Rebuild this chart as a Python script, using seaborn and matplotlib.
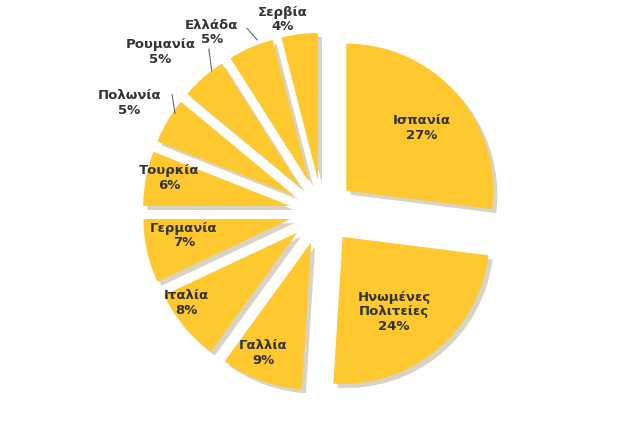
import matplotlib
matplotlib.use("Agg")
import matplotlib.pyplot as plt
import seaborn as sns

sns.set_style("white")
plt.rcParams['font.family'] = ['DejaVu Sans']

countries = ["Ισπανία", "Ηνωμένες\nΠολιτείες", "Γαλλία", "Ιταλία", "Γερμανία",
             "Τουρκία", "Πολωνία", "Ρουμανία", "Ελλάδα", "Σερβία"]
shares = [27, 24, 9, 8, 7, 6, 5, 5, 5, 4]

# label anchor positions (data units, pie radius = 1)
label_pos = [(0.68, 0.57), (0.49, -0.68), (-0.40, -0.96), (-0.92, -0.62), (-0.94, -0.16),
             (-1.04, 0.23), (-1.31, 0.74), (-1.10, 1.09), (-0.75, 1.22), (-0.27, 1.31)]
leaders = {6: ((-1.02, 0.80), (-1.00, 0.67)),
           7: ((-0.77, 1.11), (-0.75, 0.96)),
           8: ((-0.51, 1.25), (-0.44, 1.17))}

color = "#FFC82E"
fig = plt.figure(figsize=(6.4, 4.46), dpi=100)
ax = fig.add_axes([0, 0, 1, 1])
ax.pie(shares, startangle=90, counterclock=False, colors=[color]*len(shares),
       explode=[0.22]*len(shares), radius=1.0,
       shadow={'ox': 0.02, 'oy': -0.02, 'shade': 0.6, 'alpha': 0.25},
       wedgeprops=dict(linewidth=0))
scale = 147.0
cx, cy = 322, 212
ax.set_xlim(-cx/scale, (640-cx)/scale)
ax.set_ylim(-(446-cy)/scale, cy/scale)
ax.set_aspect('auto')
ax.axis('off')

for i, (c, s) in enumerate(zip(countries, shares)):
    x, y = label_pos[i]
    ax.text(x, y, f"{c}\n{s}%", ha='center', va='center', fontsize=9.5,
            fontweight='bold', color='#333333', linespacing=1.15)
for i, (p0, p1) in leaders.items():
    ax.plot([p0[0], p1[0]], [p0[1], p1[1]], color='#666666', lw=0.8)

fig.savefig("out.png", dpi=100)
